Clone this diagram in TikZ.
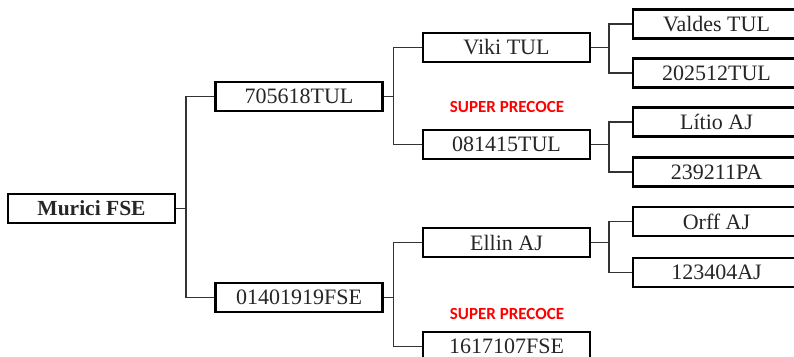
\documentclass[tikz,border=0pt]{standalone}
\usepackage{fontspec}
\setmainfont{Liberation Serif}
\newfontfamily\tagfont{Carlito}
\usetikzlibrary{positioning}

\tikzset{
  animal/.style={draw=black,fill=white,line width=2.2pt,
    minimum width=167pt,minimum height=29pt,inner sep=0pt,
    text=black!85,font=\fontsize{22}{24}\selectfont},
  link/.style={draw=black!80,line width=1.5pt},
  tag/.style={text=red,font=\tagfont\bfseries\fontsize{17}{18}\selectfont}
}

\begin{document}
\begin{tikzpicture}[x=1pt,y=-1pt]

\useasboundingbox (0,0) rectangle (794,356);
\clip (0,0) rectangle (794,356);

% generation 1
\node[animal,font=\bfseries\fontsize{21.5}{24}\selectfont] (murici) at (91.5,208.5) {Murici FSE};

% generation 2
\node[animal] (p705) at (299,96.5) {705618TUL};
\node[animal] (p0140) at (299,297.5) {01401919FSE};

% generation 3
\node[animal] (viki) at (506.5,47.5) {Viki TUL};
\node[animal] (p0814) at (506.5,144.5) {081415TUL};
\node[animal] (ellin) at (506.5,242.5) {Ellin AJ};
\node[animal] (p1617) at (506.5,346.5) {1617107FSE};

% generation 4
\node[animal] (valdes) at (716.5,24) {Valdes TUL};
\node[animal] (p2025) at (716.5,73) {202512TUL};
\node[animal] (litio) at (716.5,122) {Lítio AJ};
\node[animal] (p2392) at (716.5,172) {239211PA};
\node[animal] (orff) at (716.5,221.5) {Orff AJ};
\node[animal] (p1234) at (716.5,272.5) {123404AJ};

% labels
\node[tag] (tag1) at (507,107) {SUPER PRECOCE};
\node[tag] (tag2) at (507,314) {SUPER PRECOCE};

% connectors
\draw[link] (murici.east) -- ++(10,0) |- (p705.west);
\draw[link] (murici.east) ++(10,0) |- (p0140.west);

\draw[link] (p705.east) -- ++(10,0) |- (viki.west);
\draw[link] (p705.east) ++(10,0) |- (p0814.west);
\draw[link] (p0140.east) -- ++(10,0) |- (ellin.west);
\draw[link] (p0140.east) ++(10,0) |- (p1617.west);

\draw[link] (viki.east) -- ++(18,0) |- (valdes.west);
\draw[link] (viki.east) ++(18,0) |- (p2025.west);
\draw[link] (p0814.east) -- ++(18,0) |- (litio.west);
\draw[link] (p0814.east) ++(18,0) |- (p2392.west);
\draw[link] (ellin.east) -- ++(18,0) |- (orff.west);
\draw[link] (ellin.east) ++(18,0) |- (p1234.west);

\end{tikzpicture}
\end{document}
